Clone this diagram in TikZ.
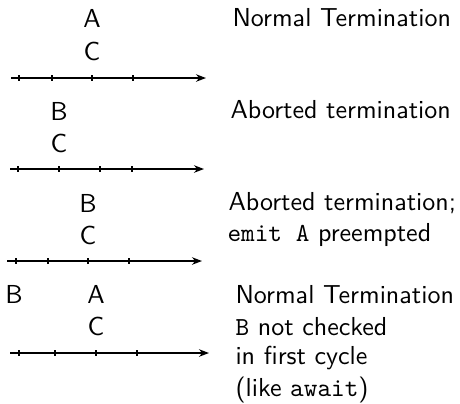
\documentclass[tikz,border=0pt]{standalone}
\usetikzlibrary{arrows.meta}
\begin{document}
\begin{tikzpicture}[x=0.4pt,y=-0.4pt,
  font=\fontsize{10.4}{12.5}\selectfont\sffamily,
  axis/.style={line width=0.85pt,-{Stealth[length=4pt,width=3pt,inset=1.3pt]}},
  tick/.style={line width=0.85pt},
  sig/.style={inner sep=0pt,anchor=center},
  note/.style={inner sep=0pt,anchor=west,align=left}]
\useasboundingbox (0,0) rectangle (460,403);

% --- first timeline: normal termination
\node[sig] (a1) at (92,18) {A};
\node[sig] (c1) at (92,51) {C};
\coordinate (s1) at (11,78);
\coordinate (e1) at (206,78);
\draw[axis] (s1) -- (e1);
\foreach \x in {19.3,51.7,92.3,133.3} \draw[tick] (\x,75) -- (\x,81);
\node[note] (n1) at (232,18) {Normal Termination};

% --- second timeline: aborted termination
\node[sig] (b2) at (59,111) {B};
\node[sig] (c2) at (59,143) {C};
\coordinate (s2) at (10,169);
\coordinate (e2) at (204,169);
\draw[axis] (s2) -- (e2);
\foreach \x in {18.3,59.3,100,132} \draw[tick] (\x,166) -- (\x,172);
\node[note] (n2) at (230,110) {Aborted termination};

% --- third timeline: emit A preempted
\node[sig] (b3) at (88,203) {B};
\node[sig] (c3) at (88,235) {C};
\coordinate (s3) at (7,261);
\coordinate (e3) at (202,261);
\draw[axis] (s3) -- (e3);
\foreach \x in {16,47.7,88.3,129.3} \draw[tick] (\x,258) -- (\x,264);
\node[note] (n3a) at (228,203) {Aborted termination;};
\node[note] (n3b) at (227,235) {\texttt{emit A} preempted};

% --- fourth timeline: B ignored in the first cycle
\node[sig] (b4) at (14,294) {B};
\node[sig] (a4) at (96,294) {A};
\node[sig] (c4) at (96,326) {C};
\coordinate (s4) at (10,353);
\coordinate (e4) at (209,353);
\draw[axis] (s4) -- (e4);
\foreach \x in {19,55,96,136.7} \draw[tick] (\x,350) -- (\x,356);
\node[note] (n4a) at (235,295) {Normal Termination};
\node[note] (n4b) at (235,327) {\texttt{B} not checked};
\node[note] (n4c) at (235,358) {in first cycle};
\node[note] (n4d) at (235,390) {(like \texttt{await})};
\end{tikzpicture}
\end{document}
